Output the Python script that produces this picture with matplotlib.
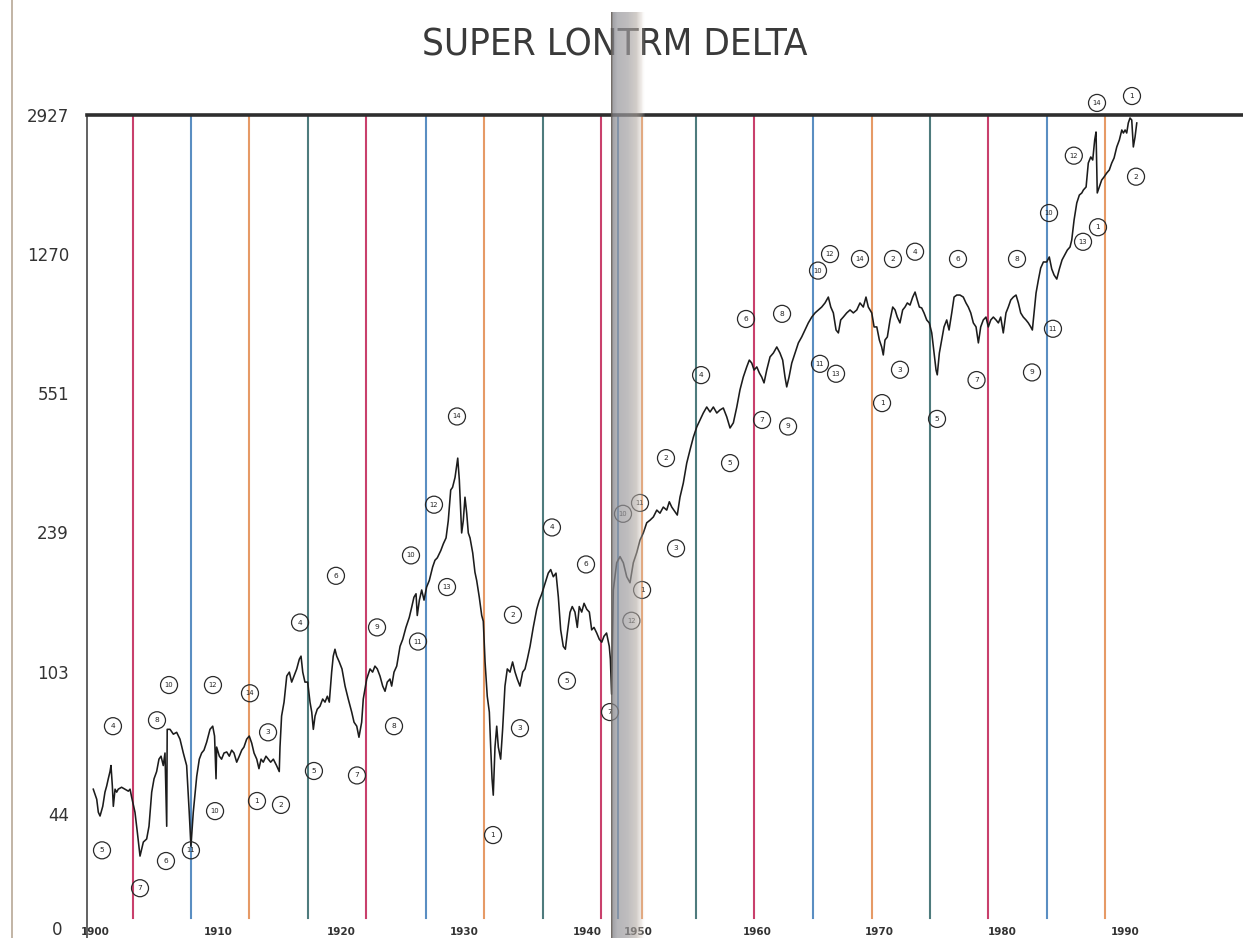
import numpy as np
import matplotlib
matplotlib.use("Agg")
import matplotlib.pyplot as plt
from matplotlib.lines import Line2D
from matplotlib.ticker import NullLocator
from matplotlib import font_manager as fm

# ---------------- data ----------------
TITLE = "SUPER LONTRM DELTA"

YEARS = [
    1899.86, 1900.14, 1900.27, 1900.41, 1900.63, 1900.81, 1900.95, 1901.08, 1901.22, 1901.30,
    1901.41, 1901.49, 1901.63, 1901.76, 1901.89, 1902.16, 1902.44, 1902.71, 1902.85, 1902.98,
    1903.25, 1903.44, 1903.66, 1903.93, 1904.20, 1904.39, 1904.61, 1904.80, 1905.01, 1905.20,
    1905.37, 1905.55, 1905.69, 1905.83, 1905.87, 1906.10, 1906.37, 1906.64, 1906.91, 1907.18,
    1907.45, 1907.66, 1907.80, 1907.99, 1908.27, 1908.48, 1908.67, 1908.86, 1909.08, 1909.35,
    1909.57, 1909.72, 1909.84, 1909.89, 1910.11, 1910.29, 1910.49, 1910.71, 1910.92, 1911.11,
    1911.30, 1911.52, 1911.73, 1911.93, 1912.11, 1912.33, 1912.54, 1912.74, 1912.93, 1913.15,
    1913.33, 1913.50, 1913.68, 1913.90, 1914.09, 1914.28, 1914.50, 1914.76, 1914.98, 1915.04,
    1915.17, 1915.37, 1915.59, 1915.80, 1915.99, 1916.18, 1916.40, 1916.61, 1916.75, 1916.89,
    1917.07, 1917.29, 1917.48, 1917.62, 1917.75, 1917.89, 1918.07, 1918.29, 1918.51, 1918.70,
    1918.89, 1919.05, 1919.24, 1919.37, 1919.51, 1919.65, 1919.86, 1920.08, 1920.33, 1920.59,
    1920.87, 1921.06, 1921.28, 1921.46, 1921.68, 1921.81, 1922.09, 1922.36, 1922.57, 1922.76,
    1922.95, 1923.17, 1923.39, 1923.58, 1923.76, 1923.98, 1924.12, 1924.31, 1924.53, 1924.80,
    1925.02, 1925.28, 1925.55, 1925.75, 1925.93, 1926.10, 1926.20, 1926.37, 1926.56, 1926.75,
    1926.96, 1927.18, 1927.45, 1927.64, 1927.83, 1928.11, 1928.32, 1928.54, 1928.72, 1928.92,
    1929.07, 1929.27, 1929.49, 1929.62, 1929.81, 1929.94, 1930.08, 1930.22, 1930.35, 1930.49,
    1930.71, 1930.89, 1931.03, 1931.24, 1931.44, 1931.57, 1931.71, 1931.89, 1932.06, 1932.17,
    1932.28, 1932.38, 1932.52, 1932.66, 1932.79, 1932.98, 1933.14, 1933.33, 1933.52, 1933.74,
    1933.95, 1934.15, 1934.33, 1934.55, 1934.77, 1934.96, 1935.15, 1935.37, 1935.63, 1935.91,
    1936.12, 1936.32, 1936.59, 1936.85, 1937.05, 1937.26, 1937.48, 1937.67, 1937.86, 1938.07,
    1938.24, 1938.40, 1938.62, 1938.80, 1939.02, 1939.21, 1939.37, 1939.57, 1939.76, 1939.98,
    1940.19, 1940.38, 1940.57, 1940.79, 1941.00, 1941.20, 1941.38, 1941.59, 1941.81, 1941.90,
    1942.00, 1943.12, 1945.37, 1946.39, 1947.03, 1947.69, 1948.33, 1948.97, 1949.63, 1950.27,
    1950.73, 1951.01, 1951.28, 1951.55, 1951.83, 1952.09, 1952.36, 1952.64, 1952.85, 1953.05,
    1953.32, 1953.50, 1953.72, 1953.99, 1954.27, 1954.54, 1954.81, 1955.09, 1955.35, 1955.62,
    1955.90, 1956.17, 1956.44, 1956.72, 1956.98, 1957.25, 1957.53, 1957.80, 1958.07, 1958.35,
    1958.61, 1958.88, 1959.16, 1959.37, 1959.57, 1959.76, 1959.98, 1960.19, 1960.38, 1960.57,
    1960.79, 1961.06, 1961.33, 1961.61, 1961.87, 1962.09, 1962.28, 1962.42, 1962.61, 1962.83,
    1963.10, 1963.37, 1963.64, 1963.91, 1964.18, 1964.46, 1964.73, 1965.00, 1965.27, 1965.54,
    1965.81, 1966.01, 1966.22, 1966.44, 1966.63, 1966.82, 1967.03, 1967.31, 1967.58, 1967.85,
    1968.13, 1968.39, 1968.66, 1968.88, 1969.07, 1969.35, 1969.54, 1969.76, 1969.97, 1970.16,
    1970.29, 1970.43, 1970.62, 1970.84, 1971.06, 1971.25, 1971.43, 1971.65, 1971.87, 1972.06,
    1972.25, 1972.47, 1972.69, 1972.88, 1973.06, 1973.23, 1973.42, 1973.61, 1973.83, 1974.04,
    1974.24, 1974.43, 1974.59, 1974.69, 1974.86, 1975.05, 1975.24, 1975.46, 1975.65, 1975.87,
    1976.06, 1976.28, 1976.54, 1976.81, 1977.03, 1977.22, 1977.42, 1977.63, 1977.85, 1978.04,
    1978.23, 1978.44, 1978.66, 1978.85, 1979.05, 1979.26, 1979.48, 1979.67, 1979.86, 1980.07,
    1980.29, 1980.48, 1980.68, 1980.89, 1981.11, 1981.30, 1981.49, 1981.70, 1981.92, 1982.11,
    1982.31, 1982.44, 1982.60, 1982.74, 1982.93, 1983.12, 1983.34, 1983.61, 1983.82, 1984.02,
    1984.21, 1984.43, 1984.64, 1984.86, 1985.08, 1985.29, 1985.51, 1985.65, 1985.84, 1986.06,
    1986.27, 1986.47, 1986.60, 1986.82, 1987.00, 1987.20, 1987.36, 1987.52, 1987.63, 1987.73,
    1987.90, 1988.09, 1988.28, 1988.50, 1988.71, 1988.91, 1989.10, 1989.32, 1989.53, 1989.73,
    1989.86, 1990.00, 1990.13, 1990.26, 1990.40, 1990.54, 1990.67, 1990.81, 1990.95,
]

VALUES = [
    51.1, 48.1, 44.5, 43.5, 46.1, 50.2, 52.1, 54.4, 56.8, 58.9,
    52.1, 46.1, 51.1, 50.2, 51.1, 51.7, 51.1, 50.5, 51.1, 48.7,
    44.5, 39.5, 34.2, 37.2, 37.9, 40.9, 50.2, 54.4, 56.8, 61.2,
    62.3, 58.9, 63.5, 40.9, 73.2, 73.2, 71.1, 71.9, 69.0, 63.5,
    58.9, 44.5, 36.3, 44.5, 55.2, 61.2, 63.5, 64.6, 67.8, 73.2,
    74.6, 70.3, 54.4, 65.8, 62.3, 61.2, 63.5, 63.9, 62.3, 64.6,
    63.5, 60.1, 62.3, 64.6, 65.8, 69.0, 70.3, 67.4, 63.5, 61.2,
    57.8, 61.2, 60.1, 62.3, 61.2, 60.1, 61.2, 58.9, 56.8, 65.8,
    79.3, 86.2, 100.8, 103.2, 97.2, 100.8, 105.2, 111.5, 113.6, 103.2,
    97.2, 97.2, 86.2, 81.2, 73.2, 79.3, 82.6, 84.1, 87.8, 86.2,
    89.3, 86.2, 103.2, 113.6, 118.4, 113.6, 109.7, 105.2, 94.9, 87.8,
    81.2, 76.4, 74.6, 69.8, 76.4, 87.8, 99.0, 105.2, 103.2, 107.0,
    105.2, 100.8, 94.9, 92.0, 97.2, 99.0, 94.9, 103.2, 107.0, 120.5,
    125.7, 135.0, 143.3, 152.5, 161.8, 165.2, 145.0, 158.9, 169.0, 159.0,
    172.0, 179.0, 194.0, 202.0, 205.0, 214.0, 223.0, 231.0, 256.0, 308.0,
    313.0, 332.0, 373.0, 327.0, 238.0, 256.0, 295.0, 268.0, 238.0, 231.0,
    211.0, 188.0, 179.0, 162.0, 145.0, 140.0, 110.0, 89.3, 81.2, 65.8,
    54.4, 49.3, 65.8, 74.6, 65.8, 61.2, 73.2, 94.9, 105.2, 103.2,
    109.7, 103.2, 99.0, 94.9, 103.2, 105.2, 111.6, 120.5, 135.0, 150.5,
    159.0, 165.0, 176.0, 187.0, 191.0, 183.0, 187.0, 162.0, 133.0, 120.5,
    118.4, 130.5, 147.8, 153.0, 148.0, 135.0, 153.0, 148.0, 156.0, 150.5,
    148.0, 133.0, 135.0, 130.5, 125.7, 123.5, 128.0, 130.5, 120.5, 111.6,
    90.4, 169.0, 199.0, 206.5, 199.0, 183.0, 176.5, 199.0, 211.5, 228.0,
    238.0, 253.0, 257.0, 262.0, 273.0, 268.0, 278.0, 273.0, 287.0, 278.0,
    270.0, 265.0, 295.0, 321.0, 362.0, 392.0, 423.0, 450.0, 469.0, 489.0,
    507.0, 492.0, 507.0, 489.0, 498.0, 504.0, 478.0, 447.0, 461.0, 507.0,
    562.0, 607.0, 645.0, 672.0, 660.0, 633.0, 645.0, 622.0, 607.0, 586.0,
    633.0, 685.0, 701.0, 727.0, 701.0, 672.0, 607.0, 572.0, 607.0, 660.0,
    701.0, 745.0, 772.0, 805.0, 840.0, 870.0, 892.0, 908.0, 924.0, 947.0,
    981.0, 924.0, 892.0, 805.0, 791.0, 855.0, 870.0, 892.0, 908.0, 892.0,
    908.0, 947.0, 924.0, 981.0, 924.0, 892.0, 820.0, 820.0, 758.0, 727.0,
    693.0, 758.0, 772.0, 855.0, 924.0, 908.0, 870.0, 840.0, 908.0, 924.0,
    947.0, 935.0, 981.0, 1011.0, 964.0, 924.0, 919.0, 892.0, 855.0, 840.0,
    791.0, 701.0, 633.0, 615.0, 701.0, 758.0, 820.0, 855.0, 805.0, 892.0,
    981.0, 993.0, 993.0, 981.0, 947.0, 924.0, 892.0, 840.0, 820.0, 745.0,
    820.0, 855.0, 870.0, 820.0, 855.0, 870.0, 855.0, 840.0, 870.0, 791.0,
    892.0, 924.0, 964.0, 981.0, 993.0, 947.0, 892.0, 870.0, 855.0, 840.0,
    820.0, 805.0, 908.0, 1005.0, 1087.0, 1168.0, 1211.0, 1211.0, 1248.0, 1161.0,
    1120.0, 1093.0, 1161.0, 1226.0, 1263.0, 1301.0, 1325.0, 1382.0, 1558.0, 1726.0,
    1810.0, 1833.0, 1866.0, 1900.0, 2194.0, 2275.0, 2234.0, 2519.0, 2643.0, 1833.0,
    1900.0, 1981.0, 2017.0, 2066.0, 2104.0, 2194.0, 2261.0, 2416.0, 2519.0, 2675.0,
    2627.0, 2675.0, 2627.0, 2790.0, 2875.0, 2840.0, 2416.0, 2565.0, 2790.0,
]

CYCLE_YEARS = [1903.05, 1907.80, 1912.56, 1917.34, 1922.07, 1926.87, 1931.63, 1936.45,
               1941.10, 1945.90, 1950.60, 1955.03, 1959.76, 1964.59, 1969.35, 1974.10,
               1978.85, 1983.63, 1988.39]
CYCLE_KINDS = ["red", "blue", "orange", "teal"]

Y_TICKS = [44, 103, 239, 551, 1270, 2927]
X_TICKS = [1900, 1910, 1920, 1930, 1940, 1950, 1960, 1970, 1980, 1990]

ANN_YEARS = [1901.46, 1900.57, 1903.66, 1905.04, 1906.02, 1905.77, 1907.80, 1909.59, 1909.76,
             1912.60, 1913.17, 1914.07, 1915.12, 1916.67, 1917.80, 1919.59, 1921.30, 1922.93,
             1924.31, 1925.69, 1926.26, 1927.56, 1928.62, 1929.43, 1932.36, 1933.98, 1934.55,
             1937.15, 1938.37, 1939.92, 1941.87, 1946.97, 1950.27, 1950.63, 1948.60, 1952.58,
             1953.40, 1955.44, 1957.80, 1959.10, 1960.41, 1962.04, 1962.53, 1964.97, 1965.95,
             1965.13, 1966.44, 1968.39, 1970.19, 1971.08, 1972.88, 1971.65, 1974.67, 1976.38,
             1977.89, 1981.19, 1982.41, 1983.80, 1984.12, 1986.57, 1987.71, 1990.56, 1985.82,
             1987.79, 1990.89]
ANN_VALUES = [74.6, 35.4, 28.2, 77.3, 95.5, 33.2, 35.4, 95.5, 44.8,
              90.9, 47.6, 71.9, 46.5, 139, 57.0, 184, 55.5, 135,
              74.6, 208, 124, 282, 172, 479, 38.8, 145.6, 73.7,
              246, 98, 197, 81.2, 267, 285, 169, 140.5, 373,
              217, 614, 362, 860, 469, 887, 451, 1150, 1270,
              657, 619, 1233, 519, 1233, 1288, 634, 472, 1233,
              596, 1233, 624, 1625, 811, 1367, 3147, 3280, 2293,
              1492, 2021]
ANN_LABELS = ["4", "5", "7", "8", "10", "6", "11", "12", "10",
              "14", "1", "3", "2", "4", "5", "6", "7", "9",
              "8", "10", "11", "12", "13", "14", "1", "2", "3",
              "4", "5", "6", "7", "10", "11", "1", "12", "2",
              "3", "4", "5", "6", "7", "8", "9", "10", "12",
              "11", "13", "14", "1", "2", "4", "3", "5", "6",
              "7", "8", "9", "10", "11", "13", "14", "1", "12",
              "1", "2"]

# ---------------- figure ----------------
W, H, DPI = 1243, 938, 100
fig = plt.figure(figsize=(W / DPI, H / DPI), dpi=DPI)
fig.patch.set_facecolor("white")

# time axis squeezed where the book gutter swallowed part of the page
KNOT_YEARS = np.array([1890.0, 1942.0, 1945.9, 1950.6, 2010.0])
KNOT_PX = np.array([-28.0, 611.6, 617.5, 641.7, 1370.5])


def fwd(y):
    return np.interp(y, KNOT_YEARS, KNOT_PX)


def inv(u):
    return np.interp(u, KNOT_PX, KNOT_YEARS)


LEFT, RIGHT, TOP, BOTTOM = 87, 1243, 115, 938
PX_PER_DECADE = 383.5
ax = fig.add_axes([LEFT / W, 1 - BOTTOM / H, (RIGHT - LEFT) / W, (BOTTOM - TOP) / H])
ax.set_xscale("function", functions=(fwd, inv))
ax.set_yscale("log")
ax.set_xlim(float(inv(LEFT)), float(inv(RIGHT)))
ax.set_ylim(Y_TICKS[-1] * 10 ** (-(BOTTOM - TOP) / PX_PER_DECADE), Y_TICKS[-1])
ax.set_facecolor("white")

COLORS = {"red": "#c9406c", "blue": "#5a8ec2", "orange": "#e69a66", "teal": "#4e7b7d"}
vline_bottom = (BOTTOM - 918) / (BOTTOM - TOP)
for i, yr in enumerate(CYCLE_YEARS):
    ax.axvline(yr, ymin=vline_bottom, ymax=1, color=COLORS[CYCLE_KINDS[i % 4]],
               lw=1.5, zorder=1)

ax.plot(YEARS, VALUES, color="#1c1c1c", lw=1.15, zorder=3)

# circled wave counts: uniform circles with the count inside
ax.scatter(ANN_YEARS, ANN_VALUES, s=150, marker="o", facecolors="none",
           edgecolors="#2a2a2a", linewidths=0.9, clip_on=False, zorder=4)
for yr, v, lab in zip(ANN_YEARS, ANN_VALUES, ANN_LABELS):
    ax.text(yr, v, lab, ha="center", va="center", fontsize=5.3 if len(lab) == 1 else 4.9,
            color="#222", clip_on=False, zorder=5)

for side in ("right", "bottom"):
    ax.spines[side].set_visible(False)
ax.spines["top"].set_linewidth(2.6)
ax.spines["top"].set_color("#2e2e2e")
ax.spines["left"].set_linewidth(1.3)
ax.spines["left"].set_color("#555555")

ax.set_yticks(Y_TICKS)
ax.set_yticklabels([str(v) for v in Y_TICKS])
ax.yaxis.set_minor_locator(NullLocator())
ax.tick_params(axis="y", length=0, pad=13, labelsize=12, labelcolor="#333333")

ax.set_xticks(X_TICKS)
ax.set_xticklabels([str(v) for v in X_TICKS])
ax.xaxis.set_minor_locator(NullLocator())
ax.tick_params(axis="x", length=0, pad=-8, labelsize=7.5, labelcolor="#333333")
for t in ax.get_xticklabels():
    t.set_fontweight("bold")

# title: prefer a condensed face if one is installed, and fit it to the original width
cond_path = None
for fe in fm.fontManager.ttflist:
    nm = (fe.name + " " + str(fe.fname)).lower()
    if ("condensed" in nm or "narrow" in nm or str(fe.stretch).lower() in ("condensed", "semi-condensed")) \
            and "bold" not in nm and "oblique" not in nm and "italic" not in nm:
        cond_path = fe.fname
        break
title_kw = dict(ha="center", va="center", color="#3a3a3a", zorder=3)
if cond_path:
    title = fig.text(615 / W, 1 - 45 / H, TITLE,
                     fontproperties=fm.FontProperties(fname=cond_path, size=30), **title_kw)
else:
    title = fig.text(615 / W, 1 - 45 / H, TITLE, fontsize=30, family="DejaVu Sans", **title_kw)
renderer = fig.canvas.get_renderer()
bw = title.get_window_extent(renderer).width
title.set_fontsize(30 * 385.0 / bw)

fig.text(57 / W, 8 / H, "0", ha="center", va="center", fontsize=12, color="#333333")

# page edge and gutter of the scanned book
fig.add_artist(Line2D([12 / W, 12 / W], [0, 1], color="#b8a896", lw=1.2))
gw = 35
cols = np.arange(gw)
cp = [0, 2, 6, 16, 25, 30, 34]
r = np.interp(cols, cp, [100, 135, 150, 160, 180, 210, 255])
g = np.interp(cols, cp, [94, 135, 150, 158, 172, 200, 255])
b = np.interp(cols, cp, [88, 140, 155, 160, 165, 190, 255])
a = np.interp(cols, cp, [0.9, 0.75, 0.7, 0.68, 0.6, 0.35, 0.0])
gh = H - 12
img = np.zeros((gh, gw, 4))
img[:, :, 0] = r / 255
img[:, :, 1] = g / 255
img[:, :, 2] = b / 255
img[:, :, 3] = a
fig.figimage(img, xo=611, yo=0, origin="upper", zorder=10)

fig.savefig("out.png", dpi=DPI, facecolor="white")
